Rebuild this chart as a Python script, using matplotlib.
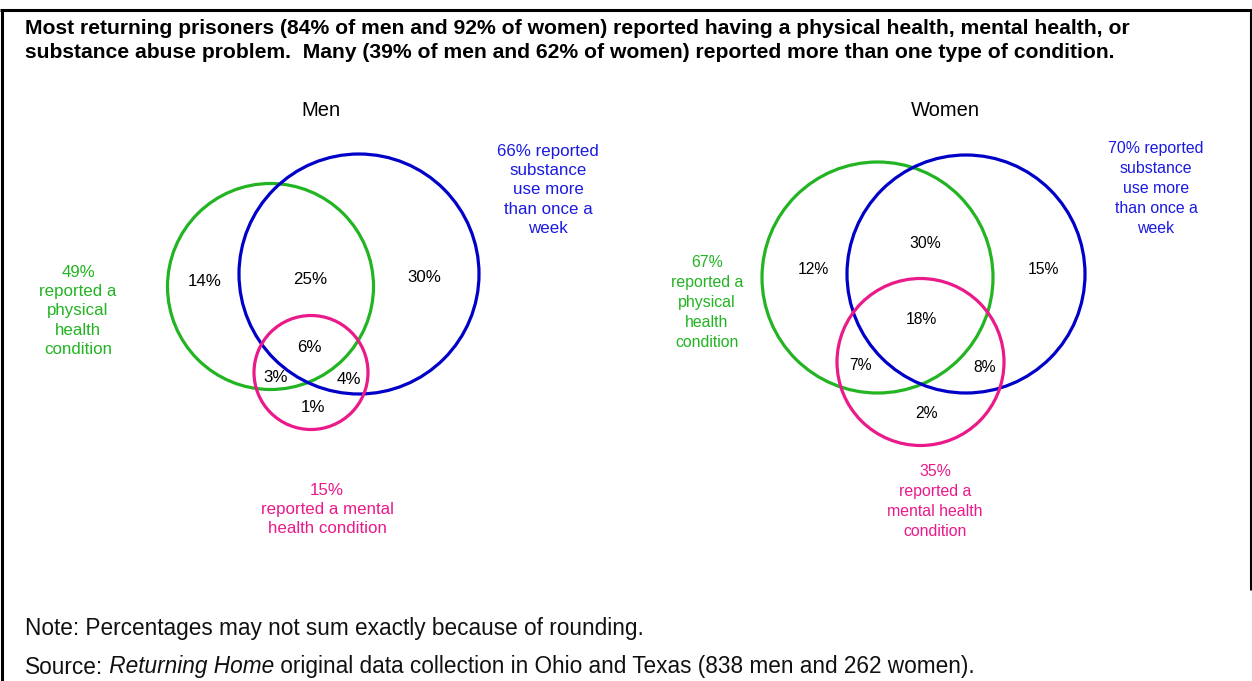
import matplotlib
matplotlib.use("Agg")
import matplotlib.pyplot as plt
from matplotlib.patches import Circle

plt.rcParams['font.family'] = ['Liberation Sans', 'DejaVu Sans']

# ---------------- data ----------------
title_lines = [
    "Most returning prisoners (84% of men and 92% of women) reported having a physical health, mental health, or",
    "substance abuse problem.  Many (39% of men and 62% of women) reported more than one type of condition.",
]
panel_titles = ["Men", "Women"]
set_names = ["physical", "substance", "mental"]
# region shares: only-physical, physical&substance, only-substance, all three,
# physical&mental, substance&mental, only-mental
region_keys = ["P", "PS", "S", "PSM", "PM", "SM", "M"]
men_regions = [14, 25, 30, 6, 3, 4, 1]
women_regions = [12, 30, 15, 18, 7, 8, 2]
men_totals = [49, 66, 15]
women_totals = [67, 70, 35]
note_text = "Note: Percentages may not sum exactly because of rounding."
source_parts = ["Source:", " Returning Home", " original data collection in Ohio and Texas (838 men and 262 women)."]

# ---------------- layout (pixel space) ----------------
W, H = 1252, 681
fig = plt.figure(figsize=(W / 100, H / 100), dpi=100)
ax = fig.add_axes([0, 0, 1, 1])
ax.set_xlim(0, W)
ax.set_ylim(H, 0)
ax.axis("off")

GREEN = "#22b422"
BLUE = "#0000c8"
BLUE_TXT = "#1a1ae0"
PINK = "#ea1a8a"

# frame
ax.plot([1.5, 1.5], [10, H], color="black", lw=2.2, solid_capstyle="butt")
ax.plot([0, W], [10, 10], color="black", lw=2.2, solid_capstyle="butt")
ax.plot([W - 1.5, W - 1.5], [10, 590], color="black", lw=2.2, solid_capstyle="butt")

# title
for i, line in enumerate(title_lines):
    ax.text(25, 29 + i * 24, line, fontsize=15.25, fontweight="bold", ha="left", va="center")

panels = [
    dict(title=panel_titles[0], tx=321, regions=men_regions, totals=men_totals,
         circles=[(270.5, 286.5, 103), (359, 274, 120), (311, 372.5, 57)],
         region_pos=[(205, 281), (310, 279), (424, 278), (309, 348), (276, 378), (349, 380), (313, 408)],
         fs=12.2, lab_fs=12.2, ls=1.36,
         labels=[
             (78, 311, "{}%\nreported a\nphysical\nhealth\ncondition"),
             (548, 190, "{}% reported\nsubstance\nuse more\nthan once a\nweek"),
             (327, 509.5, "{}%\nreported a mental\nhealth condition"),
         ]),
    dict(title=panel_titles[1], tx=945, regions=women_regions, totals=women_totals,
         circles=[(877.5, 277.5, 115.5), (966, 274, 119), (920.5, 362, 83.5)],
         region_pos=[(813, 270), (925, 243), (1043, 270), (921, 320), (861, 366), (985, 367), (926, 414)],
         fs=11.3, lab_fs=11.4, ls=1.4,
         labels=[
             (707, 302.5, "{}%\nreported a\nphysical\nhealth\ncondition"),
             (1156, 188.5, "{}% reported\nsubstance\nuse more\nthan once a\nweek"),
             (935, 501.5, "{}%\nreported a\nmental health\ncondition"),
         ]),
]

colors = [GREEN, BLUE, PINK]
txt_colors = [GREEN, BLUE_TXT, PINK]

for p in panels:
    ax.text(p["tx"], 110, p["title"], fontsize=14.5, ha="center", va="center")
    for (cx, cy, r), c in zip(p["circles"], colors):
        ax.add_patch(Circle((cx, cy), r, fill=False, edgecolor=c, lw=2.3))
    for (x, y), v in zip(p["region_pos"], p["regions"]):
        ax.text(x, y, f"{v}%", fontsize=p["fs"], ha="center", va="center")
    for (x, y, tmpl), tot, c in zip(p["labels"], p["totals"], txt_colors):
        ax.text(x, y, tmpl.format(tot), fontsize=p["lab_fs"], color=c,
                ha="center", va="center", linespacing=p["ls"])

# notes
NFS = 16.3
ax.text(25, 628, note_text, fontsize=NFS, ha="left", va="center", color="#111111")
prev = ax.text(25, 667, source_parts[0], fontsize=NFS, ha="left", va="center", color="#111111")
prev = ax.annotate(source_parts[1], xy=(1, 0), xycoords=prev, ha="left", va="bottom",
                   fontsize=NFS, style="italic", color="#111111")
prev = ax.annotate(source_parts[2], xy=(1, 0), xycoords=prev, ha="left", va="bottom",
                   fontsize=NFS, color="#111111")

fig.savefig("out.png", dpi=100)
